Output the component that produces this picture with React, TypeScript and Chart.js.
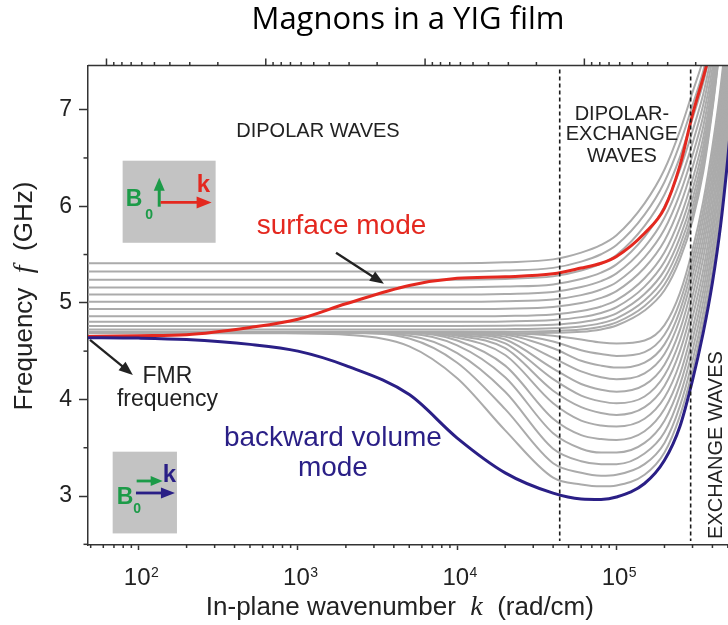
import React, { useEffect, useRef } from 'react';
import { Chart, registerables } from 'chart.js';

Chart.register(...registerables);

// ---------------- data (k in rad/cm, f in GHz) ----------------
const WAVENUMBER = [45, 100, 200, 500, 1000, 2000, 5000, 1e4, 2e4, 4e4, 6e4, 8e4, 1e5, 1.5e5, 2e5, 2.5e5, 3e5, 3.5e5, 4e5, 4.5e5, 5e5, 5.5e5];

const SURFACE_MODE = [4.65, 4.66, 4.67, 4.745, 4.83, 4.99, 5.18, 5.255, 5.27, 5.30, 5.36, 5.41, 5.48, 5.72, 5.98, 6.42, 6.95, 7.33, 7.68, null, null, null];

const BACKWARD_VOLUME_MODE = [4.64, 4.635, 4.62, 4.57, 4.50, 4.35, 4.05, 3.60, 3.24, 3.03, 2.97, 2.965, 2.99, 3.13, 3.37, 3.72, 4.20, 4.69, 5.21, 5.80, 6.50, 7.25];

// gray modes that stay flat and then rise (k perpendicular to B0 family)
const RISING_MODES = [
  [5.41, 5.41, 5.41, 5.41, 5.41, 5.41, 5.41, 5.41, 5.42, 5.45, 5.52, 5.60, 5.70, 6.03, 6.38, 6.78, 7.18, 7.52, 7.90, null, null, null],
  [5.325, 5.325, 5.325, 5.325, 5.325, 5.325, 5.325, 5.325, 5.334, 5.362, 5.427, 5.503, 5.598, 5.913, 6.251, 6.645, 7.045, 7.398, 7.80, null, null, null],
  [5.24, 5.24, 5.24, 5.24, 5.24, 5.24, 5.24, 5.24, 5.248, 5.274, 5.334, 5.405, 5.495, 5.796, 6.122, 6.509, 6.909, 7.276, 7.70, null, null, null],
  [5.16, 5.16, 5.16, 5.16, 5.16, 5.16, 5.16, 5.16, 5.168, 5.191, 5.246, 5.313, 5.398, 5.684, 5.999, 6.379, 6.779, 7.159, 7.606, null, null, null],
  [5.085, 5.085, 5.085, 5.085, 5.085, 5.085, 5.085, 5.085, 5.092, 5.113, 5.163, 5.225, 5.305, 5.577, 5.88, 6.253, 6.653, 7.047, 7.517, null, null, null],
  [5.01, 5.01, 5.01, 5.01, 5.01, 5.01, 5.01, 5.01, 5.016, 5.035, 5.08, 5.138, 5.213, 5.47, 5.761, 6.128, 6.528, 6.935, 7.427, 8.01, null, null],
  [4.935, 4.935, 4.935, 4.935, 4.935, 4.935, 4.935, 4.935, 4.94, 4.958, 4.998, 5.051, 5.121, 5.363, 5.643, 6.003, 6.403, 6.823, 7.338, 7.94, null, null],
  [4.86, 4.86, 4.86, 4.86, 4.86, 4.86, 4.86, 4.86, 4.864, 4.88, 4.915, 4.962, 5.027, 5.255, 5.524, 5.877, 6.277, 6.71, 7.248, 7.86, null, null],
  [4.805, 4.805, 4.805, 4.805, 4.805, 4.805, 4.805, 4.805, 4.808, 4.822, 4.852, 4.895, 4.955, 5.168, 5.425, 5.772, 6.172, 6.618, 7.178, 7.82, null, null],
  [4.76, 4.76, 4.76, 4.76, 4.76, 4.76, 4.76, 4.76, 4.763, 4.774, 4.799, 4.837, 4.892, 5.091, 5.336, 5.676, 6.076, 6.536, 7.119, 7.77, null, null],
  [4.725, 4.725, 4.725, 4.725, 4.725, 4.725, 4.725, 4.725, 4.727, 4.736, 4.756, 4.79, 4.84, 5.024, 5.257, 5.591, 5.991, 6.464, 7.069, 7.74, null, null],
  [4.70, 4.70, 4.70, 4.70, 4.70, 4.70, 4.70, 4.70, 4.701, 4.708, 4.723, 4.752, 4.797, 4.967, 5.189, 5.515, 5.915, 6.402, 7.03, 7.71, null, null],
  [4.685, 4.685, 4.685, 4.685, 4.685, 4.685, 4.685, 4.685, 4.685, 4.69, 4.70, 4.725, 4.765, 4.92, 5.13, 5.45, 5.85, 6.35, 7.0, 7.70, null, null],
];

// gray modes that dip below FMR (k parallel to B0 family)
const DIPPING_MODES = [
  [4.69, 4.69, 4.69, 4.69, 4.685, 4.67, 4.55, 4.22, 3.68, 3.19, 3.12, 3.10, 3.11, 3.22, 3.45, 3.83, 4.30, 4.80, 5.33, 5.93, 6.65, 7.40],
  [4.69, 4.69, 4.69, 4.69, 4.69, 4.69, 4.63, 4.38, 3.90, 3.34, 3.24, 3.21, 3.22, 3.33, 3.55, 3.93, 4.40, 4.90, 5.45, 6.05, 6.78, 7.52],
  [4.69, 4.69, 4.69, 4.69, 4.69, 4.69, 4.66, 4.48, 4.08, 3.49, 3.36, 3.33, 3.33, 3.44, 3.66, 4.04, 4.51, 5.01, 5.56, 6.17, 6.90, 7.65],
  [4.69, 4.69, 4.69, 4.69, 4.69, 4.69, 4.68, 4.56, 4.23, 3.65, 3.49, 3.45, 3.45, 3.55, 3.78, 4.15, 4.62, 5.12, 5.68, 6.29, 7.02, 7.78],
  [4.69, 4.69, 4.69, 4.69, 4.69, 4.69, 4.69, 4.61, 4.35, 3.80, 3.63, 3.59, 3.58, 3.67, 3.90, 4.26, 4.73, 5.23, 5.79, 6.40, 7.13, 7.90],
  [4.69, 4.69, 4.69, 4.69, 4.69, 4.69, 4.69, 4.64, 4.46, 3.96, 3.78, 3.73, 3.72, 3.80, 4.02, 4.38, 4.85, 5.34, 5.90, 6.51, 7.24, 8.00],
  [4.69, 4.69, 4.69, 4.69, 4.69, 4.69, 4.69, 4.66, 4.53, 4.09, 3.92, 3.86, 3.84, 3.92, 4.14, 4.50, 4.96, 5.46, 6.01, 6.62, 7.35, 8.10],
  [4.69, 4.69, 4.69, 4.69, 4.69, 4.69, 4.69, 4.67, 4.58, 4.21, 4.04, 3.98, 3.96, 4.03, 4.25, 4.61, 5.07, 5.57, 6.12, 6.73, 7.45, 8.20],
  [4.69, 4.69, 4.69, 4.69, 4.69, 4.69, 4.69, 4.68, 4.62, 4.32, 4.16, 4.10, 4.08, 4.15, 4.36, 4.72, 5.18, 5.67, 6.22, 6.83, 7.55, 8.30],
  [4.69, 4.69, 4.69, 4.69, 4.69, 4.69, 4.69, 4.685, 4.65, 4.43, 4.29, 4.23, 4.21, 4.27, 4.47, 4.83, 5.28, 5.77, 6.32, 6.93, 7.65, 8.40],
  [4.69, 4.69, 4.69, 4.69, 4.69, 4.69, 4.69, 4.69, 4.67, 4.53, 4.40, 4.35, 4.33, 4.38, 4.57, 4.92, 5.37, 5.87, 6.42, 7.03, 7.75, 8.50],
  [4.69, 4.69, 4.69, 4.69, 4.69, 4.69, 4.69, 4.69, 4.68, 4.60, 4.51, 4.47, 4.45, 4.49, 4.67, 5.01, 5.46, 5.96, 6.52, 7.13, 7.85, 8.60],
  [4.69, 4.69, 4.69, 4.69, 4.69, 4.69, 4.69, 4.69, 4.685, 4.66, 4.62, 4.59, 4.58, 4.61, 4.77, 5.10, 5.55, 6.05, 6.62, 7.23, 7.95, 8.70],
];

const X_DECADES = [100, 1000, 10000, 100000];
const X_EXPONENTS = ['2', '3', '4', '5'];
const Y_TICKS = [3, 4, 5, 6, 7];
const Y_MINOR_TICKS = [2.5, 3.5, 4.5, 5.5, 6.5];
const WAVELENGTH_DECADES_CM = [0.1, 0.01, 0.001, 0.0001];
const REGION_BOUNDARIES_K = [44000, 292000];

// ---------------- styles ----------------
const SANS = "'Liberation Sans', Arial, Helvetica, sans-serif";
const SERIF = "'Liberation Serif', 'Times New Roman', serif";
const AXIS = '#333333';
const GRAY = '#ababab';
const RED = '#e4281f';
const NAVY = '#2a1f86';
const GREEN = '#1c9b48';
const TEXT = '#222222';

const toPoints = (vals: (number | null)[]) =>
  WAVENUMBER.map((k, i) => ({ x: k, y: vals[i] })).filter((p) => p.y !== null);

function arrow(ctx: CanvasRenderingContext2D, x1: number, y1: number, x2: number, y2: number,
  color: string, lw: number, headLen: number, headW: number) {
  const a = Math.atan2(y2 - y1, x2 - x1);
  const bx = x2 - headLen * Math.cos(a);
  const by = y2 - headLen * Math.sin(a);
  ctx.strokeStyle = color;
  ctx.fillStyle = color;
  ctx.lineWidth = lw;
  ctx.beginPath();
  ctx.moveTo(x1, y1);
  ctx.lineTo(bx + Math.cos(a), by + Math.sin(a));
  ctx.stroke();
  ctx.beginPath();
  ctx.moveTo(x2, y2);
  ctx.lineTo(bx + (headW / 2) * Math.sin(a), by - (headW / 2) * Math.cos(a));
  ctx.lineTo(bx - (headW / 2) * Math.sin(a), by + (headW / 2) * Math.cos(a));
  ctx.closePath();
  ctx.fill();
}

type Part = { t: string; font: string };
function drawRich(ctx: CanvasRenderingContext2D, parts: Part[], cx: number, y: number) {
  let w = 0;
  for (const p of parts) { ctx.font = p.font; w += ctx.measureText(p.t).width; }
  let x = cx - w / 2;
  ctx.textAlign = 'left';
  ctx.textBaseline = 'alphabetic';
  for (const p of parts) {
    ctx.font = p.font;
    ctx.fillText(p.t, x, y);
    x += ctx.measureText(p.t).width;
  }
}

function line(ctx: CanvasRenderingContext2D, x1: number, y1: number, x2: number, y2: number) {
  ctx.beginPath();
  ctx.moveTo(x1, y1);
  ctx.lineTo(x2, y2);
  ctx.stroke();
}

const decorPlugin = {
  id: 'decor',
  afterDatasetsDraw(chart: any) {
    const { ctx, chartArea: a, scales } = chart;
    ctx.save();
    ctx.strokeStyle = '#1a1a1a';
    ctx.lineWidth = 1.6;
    ctx.setLineDash([4, 3]);
    for (const k of REGION_BOUNDARIES_K) {
      const x = scales.x.getPixelForValue(k);
      line(ctx, x, a.top + 4, x, a.bottom - 4);
    }
    ctx.restore();
  },
  afterDraw(chart: any) {
    const { ctx, chartArea: a, scales } = chart;
    const X = (k: number) => scales.x.getPixelForValue(k);
    const Y = (f: number) => scales.y.getPixelForValue(f);
    ctx.save();

    // frame top + wavelength ticks
    ctx.strokeStyle = AXIS;
    ctx.lineWidth = 1.5;
    line(ctx, a.left, a.top, a.right, a.top);
    const [kmin, kmax] = [scales.x.min, scales.x.max];
    for (const lam of WAVELENGTH_DECADES_CM) {
      const kt = (2 * Math.PI) / lam;
      if (kt >= kmin && kt <= kmax) line(ctx, X(kt), a.top, X(kt), a.top - 7);
      for (let m = 2; m <= 9; m++) {
        const km = (2 * Math.PI) / ((m * lam) / 10);
        if (km >= kmin && km <= kmax) line(ctx, X(km), a.top, X(km), a.top - 3.5);
      }
    }
    // bottom minor ticks
    for (let n = 1; n <= 5; n++) {
      for (let m = 2; m <= 9; m++) {
        const v = m * Math.pow(10, n);
        if (v >= kmin && v <= kmax) line(ctx, X(v), a.bottom, X(v), a.bottom + 3);
      }
    }
    // left minor ticks
    for (const f of Y_MINOR_TICKS) line(ctx, a.left, Y(f), a.left - 4.5, Y(f));

    // x tick labels 10^n
    ctx.fillStyle = TEXT;
    ctx.textBaseline = 'alphabetic';
    X_DECADES.forEach((v, i) => {
      const x = X(v) - 1.5;
      ctx.font = `24px ${SANS}`;
      ctx.textAlign = 'center';
      const w = ctx.measureText('10').width;
      ctx.fillText('10', x, a.bottom + 40);
      ctx.font = `14px ${SANS}`;
      ctx.textAlign = 'left';
      ctx.fillText(X_EXPONENTS[i], x + w / 2 + 0.5, a.bottom + 32);
    });

    // axis titles
    ctx.fillStyle = TEXT;
    drawRich(ctx, [
      { t: 'In-plane wavenumber  ', font: `26px ${SANS}` },
      { t: 'k', font: `italic 28px ${SERIF}` },
      { t: '  (rad/cm)', font: `26px ${SANS}` },
    ], X(4365), a.bottom + 70);
    ctx.save();
    ctx.translate(31.7, Y(5.07));
    ctx.rotate(-Math.PI / 2);
    drawRich(ctx, [
      { t: 'Frequency  ', font: `26px ${SANS}` },
      { t: 'f', font: `italic 28px ${SERIF}` },
      { t: '  (GHz)', font: `26px ${SANS}` },
    ], 0, 0);
    ctx.restore();

    // region labels
    ctx.fillStyle = TEXT;
    ctx.font = `20px ${SANS}`;
    ctx.textAlign = 'center';
    ctx.textBaseline = 'alphabetic';
    ctx.fillText('DIPOLAR WAVES', X(1336), Y(6.72));
    ctx.fillText('DIPOLAR-', X(1.081e5), Y(6.896));
    ctx.fillText('EXCHANGE', X(1.081e5), Y(6.689));
    ctx.fillText('WAVES', X(1.081e5), Y(6.461));
    ctx.save();
    ctx.translate(X(4.59e5), Y(3.528));
    ctx.rotate(-Math.PI / 2);
    ctx.fillText('EXCHANGE WAVES', 0, 0);
    ctx.restore();

    // mode labels
    ctx.font = `28px ${SANS}`;
    ctx.fillStyle = RED;
    ctx.textAlign = 'left';
    ctx.fillText('surface mode', X(550.5), Y(5.715));
    ctx.fillStyle = NAVY;
    ctx.textAlign = 'center';
    ctx.fillText('backward volume', X(1658), Y(3.518));
    ctx.fillText('mode', X(1658), Y(3.207));
    ctx.fillStyle = TEXT;
    ctx.font = `23px ${SANS}`;
    ctx.fillText('FMR', X(151.7), Y(4.168));
    ctx.fillText('frequency', X(151.7), Y(3.933));

    // arrows
    arrow(ctx, X(49.5), Y(4.617), X(92), Y(4.254), TEXT, 2.3, 14, 11);
    arrow(ctx, X(1734), Y(5.518), X(3467), Y(5.197), TEXT, 2.3, 14, 11);

    // geometry boxes
    const drawBox = (k1: number, k2: number, f1: number, f2: number) => {
      const bx = X(k1), by = Y(f1);
      ctx.fillStyle = '#c3c3c3';
      ctx.fillRect(bx, by, X(k2) - bx, Y(f2) - by);
      return [bx, by];
    };
    {
      const [bx, by] = drawBox(79.36, 304.3, 6.4715, 5.6218);
      arrow(ctx, bx + 36.6, by + 46, bx + 36.6, by + 17, GREEN, 3, 13, 11);
      arrow(ctx, bx + 38, by + 41.7, bx + 89, by + 41.7, RED, 2.8, 15, 12);
      ctx.textAlign = 'left';
      ctx.fillStyle = GREEN;
      ctx.font = `bold 23px ${SANS}`;
      ctx.fillText('B', bx + 3, by + 45);
      ctx.font = `bold 14px ${SANS}`;
      ctx.fillText('0', bx + 22.5, by + 58);
      ctx.fillStyle = RED;
      ctx.font = `bold 24px ${SANS}`;
      ctx.fillText('k', bx + 74, by + 31);
    }
    {
      const [bx, by] = drawBox(68.7, 174, 3.459, 2.613);
      arrow(ctx, bx + 24, by + 29.3, bx + 50, by + 29.3, GREEN, 2.8, 12, 10);
      arrow(ctx, bx + 23.3, by + 41.3, bx + 62.3, by + 41.3, NAVY, 2.8, 14, 11);
      ctx.textAlign = 'left';
      ctx.fillStyle = GREEN;
      ctx.font = `bold 23px ${SANS}`;
      ctx.fillText('B', bx + 4, by + 52);
      ctx.font = `bold 14px ${SANS}`;
      ctx.fillText('0', bx + 20.5, by + 61);
      ctx.fillStyle = NAVY;
      ctx.font = `bold 24px ${SANS}`;
      ctx.fillText('k', bx + 50, by + 30);
    }
    ctx.restore();
  },
};

export default function App() {
  const ref = useRef<HTMLCanvasElement>(null);
  useEffect(() => {
    const canvas = ref.current;
    if (!canvas) return;
    const common = { pointRadius: 0, fill: false, cubicInterpolationMode: 'monotone' as const };
    const chart = new Chart(canvas, {
      type: 'line',
      data: {
        datasets: [
          { ...common, label: 'backward volume mode', data: toPoints(BACKWARD_VOLUME_MODE), borderColor: NAVY, borderWidth: 3 },
          { ...common, label: 'surface mode', data: toPoints(SURFACE_MODE), borderColor: RED, borderWidth: 3 },
          ...RISING_MODES.map((v, i) => ({ ...common, label: `rising ${i}`, data: toPoints(v), borderColor: GRAY, borderWidth: 2 })),
          ...DIPPING_MODES.map((v, i) => ({ ...common, label: `dipping ${i}`, data: toPoints(v), borderColor: GRAY, borderWidth: 2 })),
        ] as any,
      },
      options: {
        responsive: false,
        animation: false,
        devicePixelRatio: 1,
        events: [],
        layout: { padding: 0 },
        plugins: {
          legend: { display: false },
          tooltip: { enabled: false },
          title: {
            display: true,
            text: 'Magnons in a YIG film',
            fullSize: false,
            color: '#000000',
            font: { family: "'Open Sans', sans-serif", size: 31, weight: 'normal', lineHeight: 1.2 },
            padding: { top: 1.5, bottom: 26.8 },
          },
        },
        scales: {
          x: {
            type: 'logarithmic',
            position: 'bottom',
            min: 48.1,
            max: 5.01e5,
            afterBuildTicks: (s: any) => { s.ticks = X_DECADES.map((v) => ({ value: v })); },
            afterFit: (s: any) => { s.height = 80; },
            ticks: { display: false },
            grid: { display: true, drawOnChartArea: false, drawTicks: true, tickLength: 5, tickColor: AXIS, tickWidth: 1.5 },
            border: { display: true, color: AXIS, width: 1.5 },
          },
          y: {
            type: 'linear',
            min: 2.493,
            max: 7.457,
            afterBuildTicks: (s: any) => { s.ticks = Y_TICKS.map((v) => ({ value: v })); },
            afterFit: (s: any) => { s.width = 88; },
            ticks: { font: { family: SANS, size: 23 }, color: TEXT, padding: 7, callback: (v: any) => String(v) },
            grid: { display: true, drawOnChartArea: false, drawTicks: true, tickLength: 9, tickColor: AXIS, tickWidth: 1.5 },
            border: { display: true, color: AXIS, width: 1.5 },
          },
        },
      } as any,
      plugins: [decorPlugin],
    });
    return () => chart.destroy();
  }, []);
  return (
    <div style={{ position: 'absolute', left: 0, top: 0, width: 728, height: 625 }}>
      <canvas ref={ref} width={728} height={625} style={{ display: 'block', width: 728, height: 625 }} />
    </div>
  );
}
